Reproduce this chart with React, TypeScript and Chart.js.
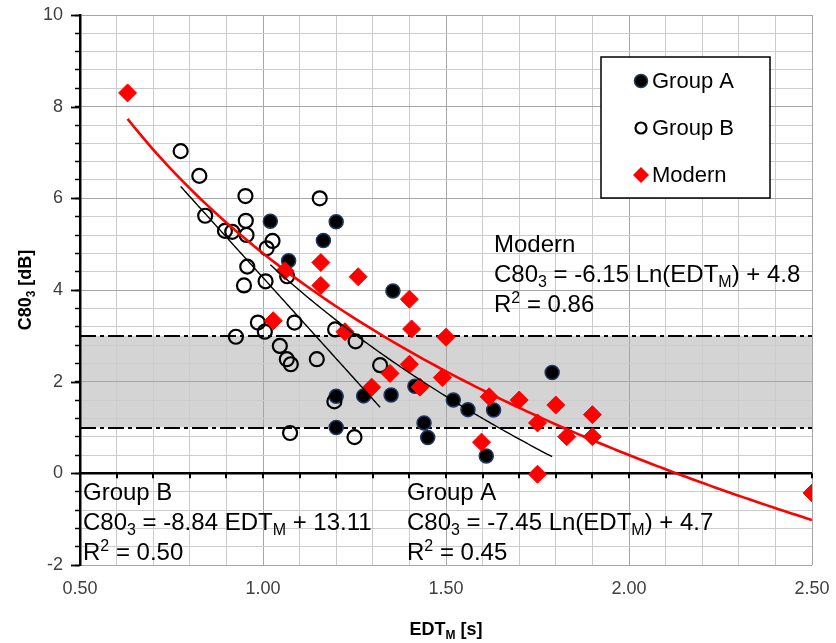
import React, { useEffect, useRef } from 'react';
import { Chart, registerables } from 'chart.js';

Chart.register(...registerables);

// ---------------- Data ----------------
const groupA_EDT = [1.02, 1.2, 1.165, 1.07, 1.355, 1.79, 1.415, 1.2, 1.275, 1.35, 1.52, 1.56, 1.63, 1.44, 1.45, 1.2, 1.61];
const groupA_C80 = [5.5, 5.49, 5.08, 4.64, 3.98, 2.2, 1.9, 1.68, 1.69, 1.71, 1.6, 1.39, 1.38, 1.1, 0.78, 1.0, 0.38];

const groupB_EDT = [0.775, 0.826, 0.952, 1.155, 0.842, 0.953, 0.896, 0.916, 0.955, 1.026, 1.01, 0.957, 1.066, 1.007, 0.948, 0.986, 1.086, 1.005, 0.926, 1.197, 1.046, 1.253, 1.065, 1.076, 1.147, 1.32, 1.195, 1.074, 1.25];
const groupB_C80 = [7.03, 6.49, 6.05, 6.0, 5.62, 5.51, 5.29, 5.27, 5.2, 5.07, 4.91, 4.51, 4.3, 4.19, 4.1, 3.29, 3.29, 3.09, 2.98, 3.14, 2.78, 2.88, 2.49, 2.38, 2.49, 2.36, 1.57, 0.88, 0.79];

const modern_EDT = [0.63, 1.06, 1.158, 1.158, 1.26, 1.028, 1.224, 1.4, 1.406, 1.5, 1.4, 1.347, 1.297, 1.429, 1.49, 1.618, 1.597, 1.7, 1.8, 1.75, 1.83, 1.9, 1.9, 1.75, 2.5];
const modern_C80 = [8.3, 4.42, 4.6, 4.1, 4.29, 3.33, 3.09, 3.8, 3.15, 2.97, 2.38, 2.18, 1.88, 1.88, 2.09, 1.67, 0.68, 1.6, 1.49, 1.1, 0.8, 1.28, 0.8, -0.02, -0.43];

const seriesNames = ['Group A', 'Group B', 'Modern'];

// Trendline coefficients, as the drawn curves
const modernFit = { a: -6.35, b: 4.8 };   // a*ln(x)+b
const groupAFit = { a: -7.45, b: 4.7 };   // a*ln(x)+b
const groupBFit = { a: -8.84, b: 13.11 }; // a*x+b

// Reference band limits
const bandLimits = [1, 3];

const xTickLabels = ['0.50', '1.00', '1.50', '2.00', '2.50'];
const yTickLabels = ['-2', '0', '2', '4', '6', '8', '10'];

type Seg = [string, 'n' | 'sub' | 'sup'];

const xTitle: Seg[] = [['EDT', 'n'], ['M', 'sub'], [' [s]', 'n']];
const yTitle: Seg[] = [['C80', 'n'], ['3', 'sub'], [' [dB]', 'n']];

const annotModern: Seg[][] = [
  [['Modern', 'n']],
  [['C80', 'n'], ['3', 'sub'], [' = -6.15 Ln(EDT', 'n'], ['M', 'sub'], [') + 4.8', 'n']],
  [['R', 'n'], ['2', 'sup'], [' = 0.86', 'n']],
];
const annotGroupB: Seg[][] = [
  [['Group B', 'n']],
  [['C80', 'n'], ['3', 'sub'], [' = -8.84 EDT', 'n'], ['M', 'sub'], [' + 13.11', 'n']],
  [['R', 'n'], ['2', 'sup'], [' = 0.50', 'n']],
];
const annotGroupA: Seg[][] = [
  [['Group A', 'n']],
  [['C80', 'n'], ['3', 'sub'], [' = -7.45 Ln(EDT', 'n'], ['M', 'sub'], [') + 4.7', 'n']],
  [['R', 'n'], ['2', 'sup'], [' = 0.45', 'n']],
];

const FONT = '"Liberation Sans", Arial, sans-serif';

function toPoints(xs: number[], ys: number[]) {
  return xs.map((x, i) => ({ x, y: ys[i] }));
}

function richWidth(ctx: CanvasRenderingContext2D, segs: Seg[], size: number, bold: boolean) {
  let w = 0;
  for (const [t, k] of segs) {
    const s = k === 'n' ? size : Math.round(size * 0.65);
    ctx.font = `${bold ? 'bold ' : ''}${s}px ${FONT}`;
    w += ctx.measureText(t).width;
  }
  return w;
}

function drawRich(ctx: CanvasRenderingContext2D, x: number, y: number, segs: Seg[], size: number, bold = false) {
  let cx = x;
  ctx.textBaseline = 'alphabetic';
  ctx.textAlign = 'left';
  for (const [t, k] of segs) {
    const s = k === 'n' ? size : Math.round(size * 0.65);
    ctx.font = `${bold ? 'bold ' : ''}${s}px ${FONT}`;
    const dy = k === 'sub' ? size * 0.2 : k === 'sup' ? -size * 0.38 : 0;
    ctx.fillText(t, cx, y + dy);
    cx += ctx.measureText(t).width;
  }
}

function drawMarker(ctx: CanvasRenderingContext2D, kind: number, x: number, y: number) {
  ctx.save();
  if (kind === 0) {
    ctx.beginPath();
    ctx.arc(x, y, 6.5, 0, Math.PI * 2);
    ctx.fillStyle = '#000';
    ctx.fill();
    ctx.lineWidth = 1.5;
    ctx.strokeStyle = '#1f3864';
    ctx.stroke();
  } else if (kind === 1) {
    ctx.beginPath();
    ctx.arc(x, y, 5.5, 0, Math.PI * 2);
    ctx.lineWidth = 2.2;
    ctx.strokeStyle = '#000';
    ctx.stroke();
  } else {
    const r = 8;
    ctx.beginPath();
    ctx.moveTo(x, y - r);
    ctx.lineTo(x + r, y);
    ctx.lineTo(x, y + r);
    ctx.lineTo(x - r, y);
    ctx.closePath();
    ctx.fillStyle = '#ff0000';
    ctx.fill();
  }
  ctx.restore();
}

const isMajorX = (v: number) => xTickLabels.includes(Number(v).toFixed(2));
const isMajorY = (v: number) => yTickLabels.includes(String(Math.round(v * 100) / 100));

const decorPlugin = {
  id: 'decor',
  beforeDraw(chart: any) {
    const { ctx, chartArea, scales } = chart;
    const y = scales.y;
    const top = y.getPixelForValue(bandLimits[1]);
    const bot = y.getPixelForValue(bandLimits[0]);
    ctx.save();
    ctx.fillStyle = '#d4d4d4';
    ctx.fillRect(chartArea.left, top, chartArea.right - chartArea.left, bot - top);
    ctx.restore();
  },
  beforeDatasetsDraw(chart: any) {
    const { ctx, chartArea, scales } = chart;
    const { x, y } = scales;
    ctx.save();
    // longer major ticks on the value axis
    ctx.strokeStyle = '#000';
    ctx.lineWidth = 1.8;
    for (const t of y.ticks) {
      if (!isMajorY(t.value)) continue;
      const py = Math.round(y.getPixelForValue(t.value)) + 0.5;
      ctx.beginPath();
      ctx.moveTo(chartArea.left - 9, py);
      ctx.lineTo(chartArea.left, py);
      ctx.stroke();
    }
    // dash-dot limits of the band
    ctx.lineWidth = 2;
    ctx.setLineDash([16, 4, 4, 4]);
    for (const v of bandLimits) {
      const py = Math.round(y.getPixelForValue(v));
      ctx.beginPath();
      ctx.moveTo(chartArea.left, py);
      ctx.lineTo(chartArea.right, py);
      ctx.stroke();
    }
    ctx.setLineDash([]);
    // zero line with tick marks
    const py0 = y.getPixelForValue(0);
    ctx.lineWidth = 2.5;
    ctx.beginPath();
    ctx.moveTo(chartArea.left, py0);
    ctx.lineTo(chartArea.right, py0);
    ctx.stroke();
    ctx.lineWidth = 2;
    for (const t of x.ticks) {
      const px = Math.round(x.getPixelForValue(t.value));
      ctx.beginPath();
      ctx.moveTo(px, py0);
      ctx.lineTo(px, py0 + 5);
      ctx.stroke();
    }
    ctx.restore();
  },
  afterDatasetsDraw(chart: any) {
    const { ctx, chartArea, scales } = chart;
    const { x, y } = scales;
    const trends = [
      { xs: groupA_EDT, f: (v: number) => groupAFit.a * Math.log(v) + groupAFit.b, color: '#000', w: 1.4 },
      { xs: groupB_EDT, f: (v: number) => groupBFit.a * v + groupBFit.b, color: '#000', w: 1.4 },
      { xs: modern_EDT, f: (v: number) => modernFit.a * Math.log(v) + modernFit.b, color: '#ff0000', w: 2.6 },
    ];
    ctx.save();
    ctx.beginPath();
    ctx.rect(chartArea.left, chartArea.top, chartArea.right - chartArea.left, chartArea.bottom - chartArea.top);
    ctx.clip();
    for (const t of trends) {
      const from = Math.min(...t.xs);
      const to = Math.max(...t.xs);
      ctx.beginPath();
      const n = 120;
      for (let i = 0; i <= n; i++) {
        const xv = from + ((to - from) * i) / n;
        const px = x.getPixelForValue(xv);
        const py = y.getPixelForValue(t.f(xv));
        if (i === 0) ctx.moveTo(px, py);
        else ctx.lineTo(px, py);
      }
      ctx.strokeStyle = t.color;
      ctx.lineWidth = t.w;
      ctx.stroke();
    }
    ctx.restore();
  },
  afterDraw(chart: any) {
    const { ctx, chartArea } = chart;
    ctx.save();
    ctx.fillStyle = '#000';
    const blocks: [Seg[][], number, number][] = [
      [annotModern, 494, 252],
      [annotGroupB, 83, 500],
      [annotGroupA, 407, 500],
    ];
    for (const [lines, lx, ly] of blocks) {
      lines.forEach((segs, i) => drawRich(ctx, lx, ly + i * 30, segs, 24));
    }
    const bx = 601, by = 57, bw = 169, bh = 141;
    ctx.fillStyle = '#fff';
    ctx.fillRect(bx, by, bw, bh);
    ctx.strokeStyle = '#000';
    ctx.lineWidth = 1.5;
    ctx.strokeRect(bx, by, bw, bh);
    seriesNames.forEach((name, i) => {
      const cy = 81 + i * 47;
      drawMarker(ctx, i, 641, cy);
      ctx.fillStyle = '#000';
      ctx.font = `22px ${FONT}`;
      ctx.textBaseline = 'middle';
      ctx.textAlign = 'left';
      ctx.fillText(name, 652, cy + 1);
    });
    ctx.fillStyle = '#000';
    const xw = richWidth(ctx, xTitle, 18, true);
    const xc = (chartArea.left + chartArea.right) / 2;
    drawRich(ctx, xc - xw / 2, 635, xTitle, 18, true);
    const yw = richWidth(ctx, yTitle, 18, true);
    const yc = (chartArea.top + chartArea.bottom) / 2;
    ctx.save();
    ctx.translate(31, yc);
    ctx.rotate(-Math.PI / 2);
    drawRich(ctx, -yw / 2, 0, yTitle, 18, true);
    ctx.restore();
    ctx.restore();
  },
};

export default function App() {
  const ref = useRef<HTMLCanvasElement | null>(null);
  useEffect(() => {
    if (!ref.current) return;
    Chart.defaults.font.family = FONT;
    const chart = new Chart(ref.current, {
      type: 'scatter',
      data: {
        datasets: [
          {
            label: seriesNames[0],
            data: toPoints(groupA_EDT, groupA_C80),
            pointStyle: 'circle',
            pointRadius: 7,
            backgroundColor: '#000',
            borderColor: '#1f3864',
            borderWidth: 1.5,
            order: 2,
          },
          {
            label: seriesNames[1],
            data: toPoints(groupB_EDT, groupB_C80),
            pointStyle: 'circle',
            pointRadius: 7,
            backgroundColor: 'rgba(0,0,0,0)',
            borderColor: '#000',
            borderWidth: 2.2,
            order: 1,
          },
          {
            label: seriesNames[2],
            data: toPoints(modern_EDT, modern_C80),
            pointStyle: 'rectRot',
            pointRadius: 9,
            backgroundColor: '#ff0000',
            borderColor: '#ff0000',
            borderWidth: 1,
            order: 0,
          },
        ],
      },
      options: {
        animation: false,
        responsive: true,
        maintainAspectRatio: false,
        events: [],
        layout: { padding: { top: 15, right: 24, left: 0, bottom: 0 } },
        plugins: { legend: { display: false }, tooltip: { enabled: false } },
        scales: {
          x: {
            type: 'linear',
            min: 0.5,
            max: 2.5,
            afterFit: (s: any) => {
              s.height = 78;
              s.paddingLeft = 0;
              s.paddingRight = 0;
            },
            ticks: {
              stepSize: 0.1,
              autoSkip: false,
              maxRotation: 0,
              padding: 13,
              color: '#404040',
              font: { size: 18 },
              callback: (v: any) => (isMajorX(v) ? Number(v).toFixed(2) : ''),
            },
            grid: {
              drawTicks: false,
              color: (c: any) => (c.tick && isMajorX(c.tick.value) ? '#a6a6a6' : '#cccccc'),
              lineWidth: 1,
            },
            border: { display: false },
          },
          y: {
            type: 'linear',
            min: -2,
            max: 10,
            afterFit: (s: any) => {
              s.width = 80;
              s.paddingTop = 0;
              s.paddingBottom = 0;
            },
            ticks: {
              stepSize: 0.4,
              autoSkip: false,
              padding: 12,
              color: '#404040',
              font: { size: 18 },
              callback: (v: any) => (isMajorY(v) ? String(Math.round(v * 100) / 100) : ''),
            },
            grid: {
              drawTicks: true,
              tickLength: 5,
              tickColor: '#000',
              tickWidth: 1.5,
              color: (c: any) => (c.tick && isMajorY(c.tick.value) ? '#a6a6a6' : '#cccccc'),
              lineWidth: 1,
            },
            border: { display: true, color: '#000', width: 2.5 },
          },
        },
      },
      plugins: [decorPlugin],
    });
    return () => chart.destroy();
  }, []);
  return (
    <div style={{ position: 'absolute', left: 0, top: 0, width: 836, height: 643 }}>
      <canvas ref={ref} />
    </div>
  );
}
